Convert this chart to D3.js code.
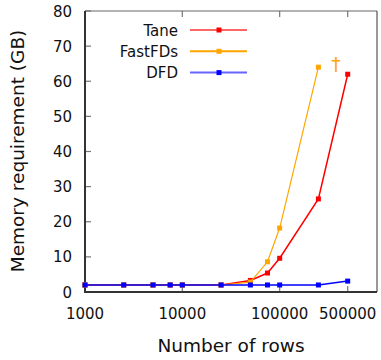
<!DOCTYPE html>
<html>
<head>
<meta charset="utf-8">
<script src="https://cdn.jsdelivr.net/npm/d3@7"></script>
<style>
  body { margin: 0; background: #fff; }
  text { font-family: "DejaVu Sans", sans-serif; fill: #111; }
</style>
</head>
<body>
<svg width="381" height="360"></svg>
<script>
// data
var rows = [1000, 2500, 5000, 7500, 10000, 25000, 50000, 75000, 100000, 250000, 500000];
var taneMem = [2, 2, 2, 2, 2, 2, 3.3, 5.4, 9.6, 26.5, 62];
var fastfdsRows = [1000, 2500, 5000, 7500, 10000, 25000, 50000, 75000, 100000, 250000];
var fastfdsMem = [2, 2, 2, 2, 2, 2, 2.8, 8.6, 18.2, 64];
var dfdMem = [2, 2, 2, 2, 2, 2, 2, 2, 2, 2, 3.1];
var xTicks = [1000, 10000, 100000, 500000];
var yTicks = [0, 10, 20, 30, 40, 50, 60, 70, 80];

var series = [
  {name: 'Tane', xs: rows, ys: taneMem, color: '#ff0000', width: 1.5, legendColor: '#ff6666'},
  {name: 'FastFDs', xs: fastfdsRows, ys: fastfdsMem, color: '#ffa500', width: 1.2, legendColor: '#ffa500'},
  {name: 'DFD', xs: rows, ys: dfdMem, color: '#0000ff', width: 1.5, legendColor: '#6666ff'}
];

var svg = d3.select('svg'),
    margin = {top: 11, right: 4, bottom: 68, left: 85};

var x = d3.scaleLog().domain([1000, 1000000]).range([0, 292]),
    y = d3.scaleLinear().domain([0, 80]).range([281, 0]);

var g = svg.append('g')
    .attr('transform', 'translate(' + margin.left + ',' + margin.top + ')');

// ticks (inward, gnuplot style)
g.selectAll('.xt-b').data(xTicks).enter().append('line')
    .attr('x1', d => x(d)).attr('x2', d => x(d))
    .attr('y1', y(0)).attr('y2', y(0) - 6)
    .attr('stroke', '#777').attr('stroke-width', 1.2);
g.selectAll('.xt-t').data(xTicks).enter().append('line')
    .attr('x1', d => x(d)).attr('x2', d => x(d))
    .attr('y1', 0).attr('y2', 6)
    .attr('stroke', '#777').attr('stroke-width', 1.2);
g.selectAll('.yt').data(yTicks).enter().append('line')
    .attr('x1', 0).attr('x2', 6)
    .attr('y1', d => y(d)).attr('y2', d => y(d))
    .attr('stroke', '#777').attr('stroke-width', 1.2);

// tick labels
g.selectAll('.xl').data(xTicks).enter().append('text')
    .attr('x', d => x(d)).attr('y', y(0) + 26.5)
    .attr('text-anchor', 'middle')
    .style('font-size', '15px')
    .text(d => d);
g.selectAll('.yl').data(yTicks).enter().append('text')
    .attr('x', -13).attr('y', d => y(d) + 5.5)
    .attr('text-anchor', 'end')
    .style('font-size', '15px')
    .text(d => d);

// frame
g.append('line').attr('x1', 0).attr('x2', x(1000000)).attr('y1', 0).attr('y2', 0)
    .attr('stroke', '#666').attr('stroke-width', 1.2);
g.append('line').attr('x1', x(1000000)).attr('x2', x(1000000)).attr('y1', 0).attr('y2', y(0))
    .attr('stroke', '#333').attr('stroke-width', 1);
g.append('line').attr('x1', 0).attr('x2', 0).attr('y1', 0).attr('y2', y(0) + 1)
    .attr('stroke', '#333').attr('stroke-width', 2);
g.append('line').attr('x1', 0).attr('x2', x(1000000)).attr('y1', y(0)).attr('y2', y(0))
    .attr('stroke', '#333').attr('stroke-width', 2);

// lines and markers
var line = d3.line().x(d => x(d[0])).y(d => y(d[1]));
series.forEach(function(s) {
  var pts = s.xs.map((v, i) => [v, s.ys[i]]);
  g.append('path').datum(pts)
      .attr('fill', 'none')
      .attr('stroke', s.color)
      .attr('stroke-width', s.width)
      .attr('d', line);
  g.selectAll(null).data(pts).enter().append('rect')
      .attr('x', d => x(d[0]) - 2.5).attr('y', d => y(d[1]) - 2.5)
      .attr('width', 5).attr('height', 5)
      .attr('fill', s.color);
});

// dagger for FastFDs running out of memory
g.append('text')
    .attr('x', x(380000)).attr('y', 60)
    .attr('text-anchor', 'middle')
    .style('font-size', '19px')
    .style('fill', '#ffa500')
    .text('†');

// legend
var legend = g.selectAll('.legend').data(series).enter().append('g')
    .attr('transform', (d, i) => 'translate(0,' + (19 + i * 21.3) + ')');
legend.append('text')
    .attr('x', 93).attr('y', 5.5)
    .attr('text-anchor', 'end')
    .style('font-size', '15px')
    .text(d => d.name);
legend.append('line')
    .attr('x1', 105).attr('x2', 162)
    .attr('stroke', d => d.legendColor)
    .attr('stroke-width', 2);
legend.append('rect')
    .attr('x', 131.5).attr('y', -2.5).attr('width', 5).attr('height', 5)
    .attr('fill', d => d.color);

// axis titles
svg.append('text')
    .attr('x', 231).attr('y', 351.5)
    .attr('text-anchor', 'middle')
    .style('font-size', '18.5px')
    .text('Number of rows');
svg.append('text')
    .attr('transform', 'translate(24,151) rotate(-90)')
    .attr('text-anchor', 'middle')
    .style('font-size', '18.5px')
    .text('Memory requirement (GB)');
</script>
</body>
</html>
